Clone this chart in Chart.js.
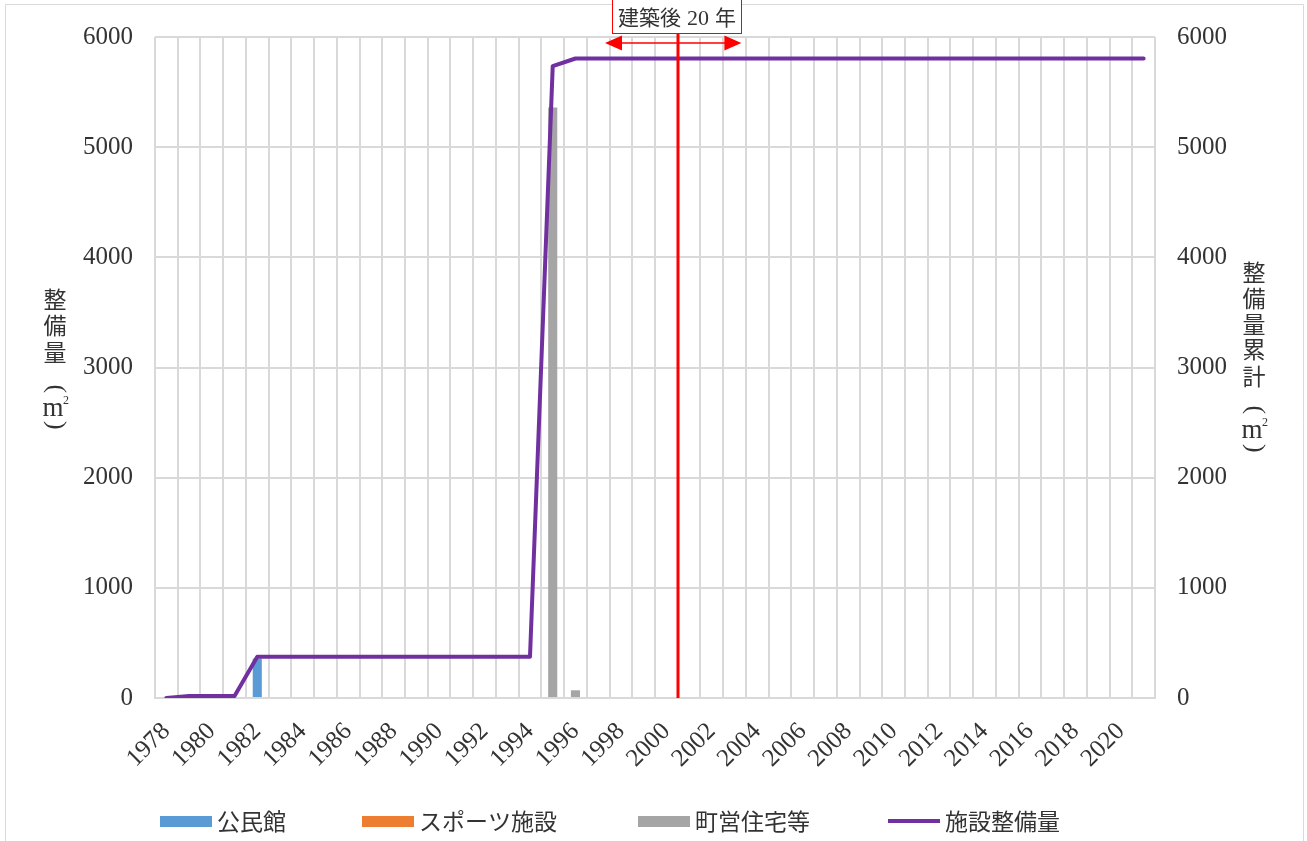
<!DOCTYPE html>
<html lang="ja">
<head>
<meta charset="utf-8">
<title>施設整備量の推移</title>
<script src="https://cdn.jsdelivr.net/npm/chart.js@4.4.1/dist/chart.umd.min.js"></script>
<style>
  html, body { margin: 0; padding: 0; background: #ffffff; }
  #wrap { width: 1307px; height: 841px; position: relative; overflow: hidden; }
  canvas { display: block; }
</style>
</head>
<body>
<div id="wrap"><canvas id="chart" width="1307" height="841"></canvas></div>
<script>
// 年度
const years = ['1978','1979','1980','1981','1982','1983','1984','1985','1986','1987',
               '1988','1989','1990','1991','1992','1993','1994','1995','1996','1997',
               '1998','1999','2000','2001','2002','2003','2004','2005','2006','2007',
               '2008','2009','2010','2011','2012','2013','2014','2015','2016','2017',
               '2018','2019','2020','2021'];

// 年度別整備量（㎡）
const kominkan = [0,0,0,0,357,0,0,0,0,0, 0,0,0,0,0,0,0,0,0,0,
                  0,0,0,0,0,0,0,0,0,0, 0,0,0,0,0,0,0,0,0,0, 0,0,0,0];
const sports   = [0,0,0,0,0,0,0,0,0,0, 0,0,0,0,0,0,0,0,0,0,
                  0,0,0,0,0,0,0,0,0,0, 0,0,0,0,0,0,0,0,0,0, 0,0,0,0];
const jutaku   = [0,18,0,0,0,0,0,0,0,0, 0,0,0,0,0,0,0,5360,70,0,
                  0,0,0,0,0,0,0,0,0,0, 0,0,0,0,0,0,0,0,0,0, 0,0,0,0];

// 施設整備量の累計（㎡）
const cumulative = [0,18,18,18,375,375,375,375,375,375, 375,375,375,375,375,375,375,5735,5805,5805,
                    5805,5805,5805,5805,5805,5805,5805,5805,5805,5805, 5805,5805,5805,5805,5805,5805,5805,5805,5805,5805,
                    5805,5805,5805,5805];

// 縦軸目盛
const yTicks = [0, 1000, 2000, 3000, 4000, 5000, 6000];

// 建築後20年の目印（2000年と2001年の境）
const markerAt = 22.5;
const markerParts = ['建築後', '20', '年'];
const arrowFrom = 19.3;
const arrowTo = 25.3;

const seriesNames = ['公民館', 'スポーツ施設', '町営住宅等', '施設整備量'];
const colors = { blue: '#5B9BD5', orange: '#ED7D31', gray: '#A5A5A5', purple: '#7030A0' };

const SERIF = '"Liberation Serif", "Times New Roman", serif';
const CJK = '"Noto Sans CJK JP", "Noto Sans", sans-serif';
const GRID = '#D9D9D9';
const TEXT = '#333333';

// 外枠
const framePlugin = {
  id: 'frame',
  beforeDraw(chart) {
    const ctx = chart.ctx;
    ctx.save();
    ctx.strokeStyle = GRID;
    ctx.lineWidth = 1;
    ctx.beginPath();
    ctx.moveTo(5.5, 900);
    ctx.lineTo(5.5, 4.5);
    ctx.lineTo(1303.5, 4.5);
    ctx.lineTo(1303.5, 900);
    ctx.stroke();
    ctx.restore();
  }
};

// 字形の外形で中央揃えして描く（回転可）
function drawCentered(ctx, text, font, cx, cy, angle) {
  ctx.save();
  ctx.font = font;
  ctx.textAlign = 'left';
  ctx.textBaseline = 'alphabetic';
  const m = ctx.measureText(text);
  const w = m.actualBoundingBoxLeft + m.actualBoundingBoxRight;
  const h = m.actualBoundingBoxAscent + m.actualBoundingBoxDescent;
  ctx.translate(cx, cy);
  ctx.rotate(angle || 0);
  ctx.fillText(text, -w / 2 + m.actualBoundingBoxLeft, h / 2 - m.actualBoundingBoxDescent);
  ctx.restore();
}

// 縦書きの軸タイトル
function drawVertical(ctx, cx, items) {
  items.forEach(([ch, cy, kind]) => {
    if (kind === 'unit') {
      drawCentered(ctx, 'm', '27px ' + SERIF, cx - 2, cy + 2);
      drawCentered(ctx, '2', '12px ' + SERIF, cx + 11, cy - 7);
    } else if (kind === 'open') {
      drawCentered(ctx, '(', '26px ' + SERIF, cx, cy, Math.PI / 2);
    } else if (kind === 'close') {
      drawCentered(ctx, ')', '26px ' + SERIF, cx, cy, Math.PI / 2);
    } else {
      drawCentered(ctx, ch, '23px ' + CJK, cx, cy);
    }
  });
}

const titlesPlugin = {
  id: 'axisTitles',
  afterDraw(chart) {
    const ctx = chart.ctx;
    ctx.save();
    ctx.fillStyle = TEXT;
    drawVertical(ctx, 55, [
      ['整', 299], ['備', 325], ['量', 352],
      ['（', 389, 'open'], ['㎡', 407, 'unit'], ['）', 425, 'close']
    ]);
    drawVertical(ctx, 1254, [
      ['整', 272], ['備', 298], ['量', 324], ['累', 350], ['計', 376],
      ['（', 410, 'open'], ['㎡', 429, 'unit'], ['）', 448, 'close']
    ]);
    ctx.restore();
  }
};

// 凡例
const legendPlugin = {
  id: 'customLegend',
  afterDraw(chart) {
    const ctx = chart.ctx;
    const y = 821;
    const items = [
      { x: 160, type: 'box', color: colors.blue, text: seriesNames[0] },
      { x: 362, type: 'box', color: colors.orange, text: seriesNames[1] },
      { x: 638, type: 'box', color: colors.gray, text: seriesNames[2] },
      { x: 888, type: 'line', color: colors.purple, text: seriesNames[3] }
    ];
    ctx.save();
    items.forEach(it => {
      if (it.type === 'box') {
        ctx.fillStyle = it.color;
        ctx.fillRect(it.x, y - 5, 52, 11);
      } else {
        ctx.strokeStyle = it.color;
        ctx.lineWidth = 4;
        ctx.beginPath();
        ctx.moveTo(it.x, y);
        ctx.lineTo(it.x + 52, y);
        ctx.stroke();
      }
      ctx.fillStyle = TEXT;
      ctx.font = '23px ' + CJK;
      ctx.textAlign = 'left';
      ctx.textBaseline = 'middle';
      ctx.fillText(it.text, it.x + 57, y);
    });
    ctx.restore();
  }
};

// 建築後20年の線・矢印・ラベル
const markerPlugin = {
  id: 'marker',
  afterDatasetsDraw(chart) {
    const { ctx, scales: { x }, chartArea } = chart;
    const lx = Math.round(x.getPixelForValue(markerAt));
    const ax1 = x.getPixelForValue(arrowFrom);
    const ax2 = x.getPixelForValue(arrowTo);
    const ay = 43;
    ctx.save();
    // 縦線
    ctx.strokeStyle = '#FF0000';
    ctx.lineWidth = 3;
    ctx.beginPath();
    ctx.moveTo(lx, 34);
    ctx.lineTo(lx, chartArea.bottom);
    ctx.stroke();
    // 両矢印
    ctx.lineWidth = 1.5;
    ctx.beginPath();
    ctx.moveTo(ax1 + 10, ay);
    ctx.lineTo(ax2 - 10, ay);
    ctx.stroke();
    ctx.fillStyle = '#FF0000';
    ctx.beginPath();
    ctx.moveTo(ax1, ay);
    ctx.lineTo(ax1 + 17, ay - 7.5);
    ctx.lineTo(ax1 + 17, ay + 7.5);
    ctx.closePath();
    ctx.fill();
    ctx.beginPath();
    ctx.moveTo(ax2, ay);
    ctx.lineTo(ax2 - 17, ay - 7.5);
    ctx.lineTo(ax2 - 17, ay + 7.5);
    ctx.closePath();
    ctx.fill();
    // ラベル枠
    const bx1 = lx - 66, bx2 = lx + 64;
    ctx.fillStyle = '#FFFFFF';
    ctx.fillRect(bx1, -1, bx2 - bx1, 35);
    ctx.strokeStyle = '#FF0000';
    ctx.lineWidth = 1;
    ctx.strokeRect(bx1 + 0.5, -0.5, bx2 - bx1 - 1, 34);
    // ラベル文字（和文と数字を並べる）
    const fonts = ['21px ' + CJK, '22px ' + SERIF, '21px ' + CJK];
    const gap = 6;
    const widths = markerParts.map((t, i) => { ctx.font = fonts[i]; return ctx.measureText(t).width; });
    const total = widths.reduce((a, b) => a + b, 0) + gap * (markerParts.length - 1);
    let tx = lx - 1 - total / 2;
    ctx.fillStyle = TEXT;
    ctx.textAlign = 'left';
    ctx.textBaseline = 'alphabetic';
    markerParts.forEach((t, i) => {
      ctx.font = fonts[i];
      ctx.fillText(t, tx, 25);
      tx += widths[i] + gap;
    });
    ctx.restore();
  }
};

const tickFont = { family: SERIF, size: 25 };
const plainNumber = v => String(v);

new Chart(document.getElementById('chart'), {
  type: 'bar',
  data: {
    labels: years,
    datasets: [
      { type: 'line', label: seriesNames[3], data: cumulative, yAxisID: 'y2',
        borderColor: colors.purple, backgroundColor: colors.purple, borderWidth: 4,
        pointRadius: 0, tension: 0, order: 0, borderJoinStyle: 'round', borderCapStyle: 'round' },
      { label: seriesNames[0], data: kominkan, backgroundColor: colors.blue, yAxisID: 'y', order: 1 },
      { label: seriesNames[1], data: sports, backgroundColor: colors.orange, yAxisID: 'y', order: 1 },
      { label: seriesNames[2], data: jutaku, backgroundColor: colors.gray, yAxisID: 'y', order: 1 }
    ]
  },
  options: {
    responsive: false,
    animation: false,
    devicePixelRatio: 1,
    layout: { padding: { top: 34, left: 0, right: 0, bottom: 0 } },
    datasets: { bar: { categoryPercentage: 1, barPercentage: 0.4 } },
    plugins: { legend: { display: false }, tooltip: { enabled: false } },
    scales: {
      x: {
        stacked: true,
        offset: true,
        grid: { offset: true, color: GRID, lineWidth: 2, drawTicks: false },
        border: { color: GRID, width: 2 },
        ticks: {
          autoSkip: false, maxRotation: 45, minRotation: 45, padding: 19,
          color: TEXT, font: tickFont,
          callback: (v, i) => (i % 2 === 0 ? years[i] : '')
        },
        afterFit: s => { s.height = 143; }
      },
      y: {
        position: 'left', stacked: true, min: 0, max: 6000,
        afterBuildTicks: s => { s.ticks = yTicks.map(v => ({ value: v })); },
        grid: { color: GRID, lineWidth: 2, drawTicks: false },
        border: { display: false },
        ticks: { padding: 22, color: TEXT, font: tickFont, callback: plainNumber },
        afterFit: s => { s.width = 155; }
      },
      y2: {
        position: 'right', min: 0, max: 6000,
        afterBuildTicks: s => { s.ticks = yTicks.map(v => ({ value: v })); },
        grid: { display: false, drawTicks: false },
        border: { display: false },
        ticks: { padding: 22, color: TEXT, font: tickFont, callback: plainNumber },
        afterFit: s => { s.width = 152; }
      }
    }
  },
  plugins: [framePlugin, markerPlugin, titlesPlugin, legendPlugin]
});
</script>
</body>
</html>
